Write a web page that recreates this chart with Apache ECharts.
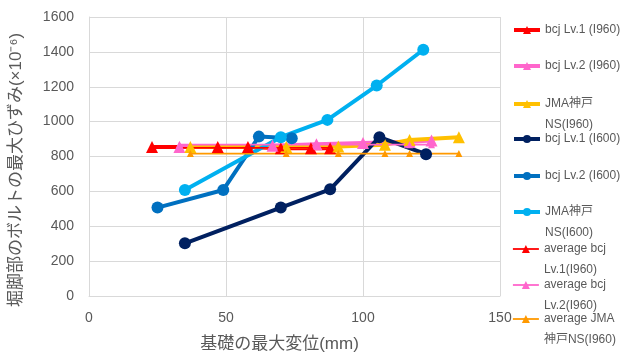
<!DOCTYPE html>
<html>
<head>
<meta charset="utf-8">
<script src="https://cdn.jsdelivr.net/npm/echarts@6/dist/echarts.min.js"></script>
<style>
  html, body { margin: 0; padding: 0; background: #fff; }
  #chart { width: 620px; height: 358px; }
</style>
</head>
<body>
<div id="chart"></div>
<script>
// Displacement of the foundation (mm) and peak bolt strain (x10^-6) per case
const bcjLv1_960_x = [23, 47, 58, 70, 81, 88];
const bcjLv1_960_y = [855, 855, 855, 848, 848, 848];
const bcjLv2_960_x = [33, 67, 83, 100, 117, 125];
const bcjLv2_960_y = [855, 862, 870, 878, 885, 892];
const jma_960_x = [37, 72, 91, 108, 117, 135];
const jma_960_y = [855, 855, 858, 868, 895, 910];
const bcjLv1_600_x = [35, 70, 88, 106, 123];
const bcjLv1_600_y = [302, 507, 612, 911, 813];
const bcjLv2_600_x = [25, 49, 62, 74];
const bcjLv2_600_y = [507, 608, 914, 905];
const jma_600_x = [35, 70, 87, 105, 122];
const jma_600_y = [608, 911, 1010, 1207, 1412];
const avgBcjLv1_960 = 850;
const avgBcjLv2_960 = 868;
const avgJma_960 = 817;

const xTicks = [0, 50, 100, 150];
const yTicks = [0, 200, 400, 600, 800, 1000, 1200, 1400, 1600];

const seriesNames = [
  'bcj Lv.1 (I960)', 'bcj Lv.2 (I960)', 'JMA神戸NS(I960)',
  'bcj Lv.1 (I600)', 'bcj Lv.2 (I600)', 'JMA神戸NS(I600)',
  'average bcj Lv.1(I960)', 'average bcj Lv.2(I960)', 'average JMA神戸NS(I960)'
];
const legendText = [
  'bcj Lv.1 (I960)', 'bcj Lv.2 (I960)', 'JMA神戸\nNS(I960)',
  'bcj Lv.1 (I600)', 'bcj Lv.2 (I600)', 'JMA神戸\nNS(I600)',
  'average bcj\nLv.1(I960)', 'average bcj\nLv.2(I960)', 'average JMA\n神戸NS(I960)'
];
const legendIconY = [30, 66, 104, 139, 176, 212, 249, 285, 319];

const colors = ['#ff0000', '#ff66cc', '#ffc000', '#002060', '#0070c0', '#00b0f0', '#ff0000', '#ff66cc', '#ff9900'];

const pairs = (xs, ys) => xs.map((x, i) => [x, ys[i]]);
const flat = (xs, v) => xs.map(x => [x, v]);

const seriesData = [
  pairs(bcjLv1_960_x, bcjLv1_960_y),
  pairs(bcjLv2_960_x, bcjLv2_960_y),
  pairs(jma_960_x, jma_960_y),
  pairs(bcjLv1_600_x, bcjLv1_600_y),
  pairs(bcjLv2_600_x, bcjLv2_600_y),
  pairs(jma_600_x, jma_600_y),
  flat(bcjLv1_960_x, avgBcjLv1_960),
  flat(bcjLv2_960_x, avgBcjLv2_960),
  flat(jma_960_x, avgJma_960)
];

const FONT = '"Liberation Sans", "Noto Sans CJK JP", sans-serif';
const TEXT = '#595959';

const series = seriesNames.map((name, i) => {
  const isAvg = i >= 6;
  const isCircle = i >= 3 && i <= 5;
  return {
    name: name,
    type: 'line',
    data: seriesData[i],
    symbol: isCircle ? 'circle' : 'triangle',
    symbolSize: isAvg ? 7 : 12,
    color: colors[i],
    lineStyle: { width: isAvg ? 1.8 : 4, color: colors[i] },
    itemStyle: { color: colors[i] },
    emphasis: { disabled: true },
    animation: false
  };
});

// One legend block per entry so each can sit at its own height;
// wrapped names keep their first line level with the icon.
const legends = seriesNames.map((name, i) => {
  const twoLines = legendText[i].indexOf('\n') >= 0;
  const L = 21;
  return {
    data: [name],
    left: 512,
    top: twoLines ? legendIconY[i] - 1.5 * L : legendIconY[i] - L / 2,
    padding: 0,
    itemWidth: 26,
    itemHeight: 10,
    itemGap: 0,
    selectedMode: false,
    lineStyle: { width: i >= 6 ? 1.8 : 4 },
    formatter: () => (twoLines ? '\n' : '') + legendText[i],
    textStyle: {
      fontFamily: FONT, fontSize: 12, color: TEXT, lineHeight: L,
      width: 90, overflow: 'none'
    }
  };
});

const chart = echarts.init(document.getElementById('chart'), null, { renderer: 'canvas' });
chart.setOption({
  backgroundColor: '#ffffff',
  animation: false,
  grid: { left: 87.5, right: 120, top: 17, bottom: 62, containLabel: false },
  legend: legends,
  xAxis: {
    type: 'value',
    min: xTicks[0], max: xTicks[xTicks.length - 1], interval: 50,
    name: '基礎の最大変位(mm)',
    nameLocation: 'middle',
    nameGap: 40,
    nameTextStyle: { fontFamily: FONT, fontSize: 17, color: TEXT, padding: [0, 30, 0, 0] },
    axisLine: { show: true, lineStyle: { color: '#d9d9d9' } },
    axisTick: { show: false },
    axisLabel: { fontFamily: FONT, fontSize: 14, color: TEXT, margin: 15 },
    splitLine: { show: true, lineStyle: { color: '#d9d9d9' } }
  },
  yAxis: {
    type: 'value',
    min: yTicks[0], max: yTicks[yTicks.length - 1], interval: 200,
    name: '堀脚部のボルトの最大ひずみ(×10⁻⁶)',
    nameLocation: 'middle',
    nameGap: 64,
    nameTextStyle: { fontFamily: FONT, fontSize: 17, color: TEXT, padding: [0, 27, 0, 0] },
    axisLine: { show: true, lineStyle: { color: '#d9d9d9' } },
    axisTick: { show: false },
    axisLabel: { fontFamily: FONT, fontSize: 14, color: TEXT, margin: 15, formatter: v => String(v) },
    splitLine: { show: true, lineStyle: { color: '#d9d9d9' } }
  },
  series: series
});
</script>
</body>
</html>
